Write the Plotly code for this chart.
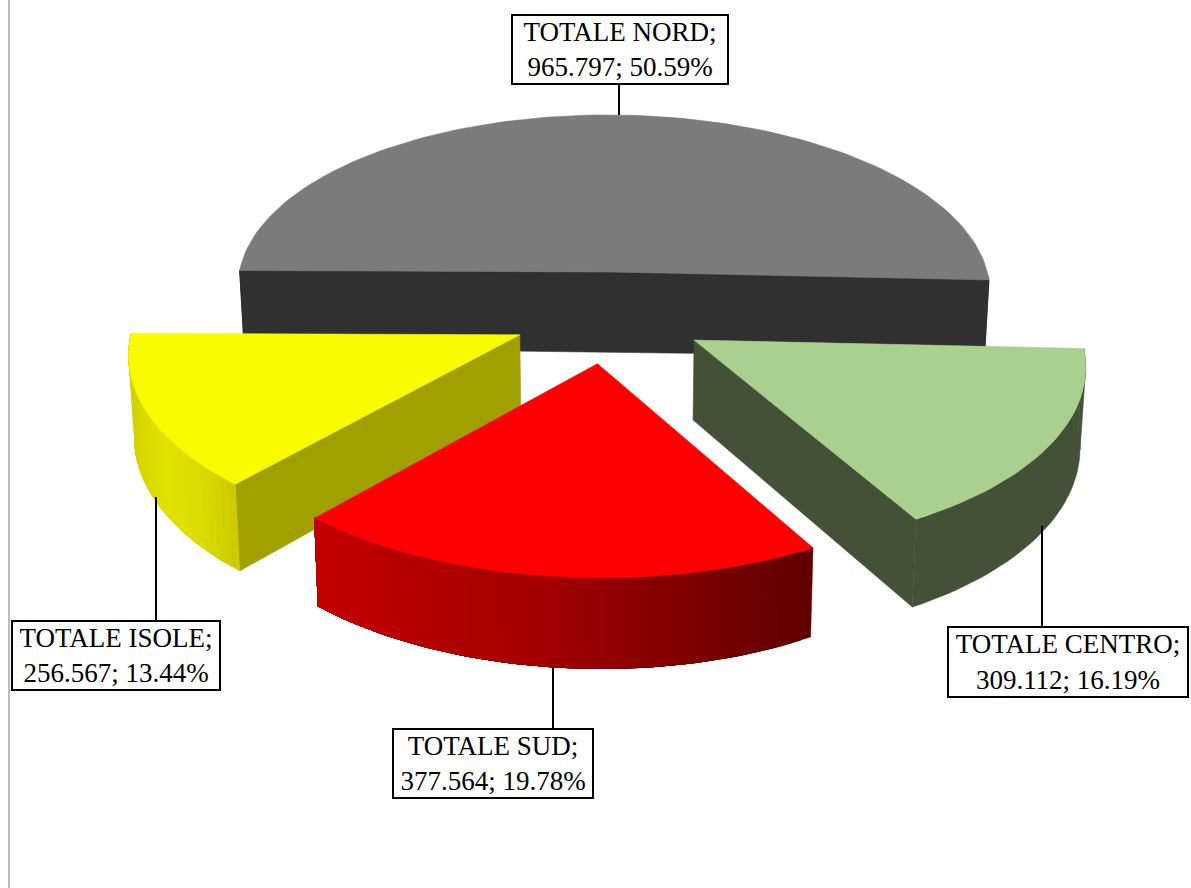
import math
import plotly.graph_objects as go

names = ["TOTALE NORD", "TOTALE CENTRO", "TOTALE SUD", "TOTALE ISOLE"]
values = [965797, 309112, 377564, 256567]
value_labels = ["965.797", "309.112", "377.564", "256.567"]
pct_labels = ["50.59%", "16.19%", "19.78%", "13.44%"]

top_colors = ["#7b7b7b", "#a9d08e", "#ff0000", "#fbfb00"]
flat_walls = ["#303030", "#435237", "#700000", "#a0a000"]
arc_stops = [
    ["#303030", "#303030"],
    ["#435237", "#435237"],
    ["#c40000", "#a00000", "#600000"],
    ["#d2d200", "#e2e200", "#dcdc00", "#cccc00"],
]
explode = [(0, 0), (0.206, -0.376), (-0.042, -0.505), (-0.243, -0.355)]
draw_order = [0, 3, 1, 2]

START = -90.5
CX, CY, RX, RY, K, H, ROLL = 614, 272, 374, 172.7, 0.1, 77, 0.008


def project(X, Y, drop=0.0):
    s = 1 / (1 + K * Y)
    shrink = 1 - 0.012 * drop
    px = CX + RX * s * X * shrink
    py = CY - RY * Y * s + H * s * drop
    return px, py + ROLL * (px - CX)


def hexmix(a, b, t):
    ca = [int(a[i:i + 2], 16) for i in (1, 3, 5)]
    cb = [int(b[i:i + 2], 16) for i in (1, 3, 5)]
    return "#%02x%02x%02x" % tuple(round(p + (q - p) * t) for p, q in zip(ca, cb))


def ramp(stops, f):
    f = min(max(f, 0), 1) * (len(stops) - 1)
    j = min(int(f), len(stops) - 2)
    return hexmix(stops[j], stops[j + 1], f - j)


fig = go.Figure()


def poly(points, color, name, width=0.6):
    fig.add_trace(go.Scatter(
        x=[p[0] for p in points] + [points[0][0]],
        y=[p[1] for p in points] + [points[0][1]],
        mode="lines", fill="toself", fillcolor=color,
        line=dict(color=color, width=width), hoverinfo="text", text=name,
        showlegend=False))


total = sum(values)
spans = []
a = START
for v in values:
    spans.append((a, a + 360 * v / total))
    a += 360 * v / total

for i in draw_order:
    a0, a1 = spans[i]
    ox, oy = explode[i]

    def rim(t, drop=0.0):
        r = math.radians(t)
        return project(ox + math.sin(r), oy + math.cos(r), drop)

    def apex(drop=0.0):
        return project(ox, oy, drop)

    steps = max(8, int((a1 - a0) / 1.5))
    angles = [a0 + (a1 - a0) * j / steps for j in range(steps + 1)]

    # radial walls that face the viewer
    if math.sin(math.radians(a0)) < 0:
        poly([apex(), rim(a0), rim(a0, 1), apex(1)], flat_walls[i], names[i])
    if math.sin(math.radians(a1)) > 0:
        poly([apex(), rim(a1), rim(a1, 1), apex(1)], flat_walls[i], names[i])

    # curved outer wall, only its front part: each strip runs on to the far end
    # of the wall and the next one paints over it, so no seams appear
    front = [t for t in angles if 90 < (t % 360) < 270]
    if front:
        xs = [rim(t)[0] for t in front]
        lo, hi = min(xs), max(xs)
        uniform = len(set(arc_stops[i])) == 1
        starts = front[:1] if uniform else front[:-1]
        for k, t0 in enumerate(starts):
            rest = [t for t in front if t >= t0]
            f = (rim(t0)[0] - lo) / max(hi - lo, 1)
            outline = [rim(t) for t in rest] + [rim(t, 1) for t in reversed(rest)]
            poly(outline, ramp(arc_stops[i], f), names[i], width=0.5)
        if uniform:
            # close the silhouette where the wall turns away from the viewer
            widest = max(front, key=lambda t: rim(t)[0])
            widest_low = max(front, key=lambda t: rim(t, 1)[0])
            poly([rim(widest), rim(widest_low, 1), rim(front[0], 1), rim(front[0])],
                 ramp(arc_stops[i], 0), names[i], width=0.5)

    # top face
    poly([apex()] + [rim(t) for t in angles], top_colors[i], names[i])

label_boxes = [(619.5, 49, 217, 70), (1067.5, 661.5, 241, 71), (492.5, 763, 201, 70), (115.5, 655, 209, 70)]
leaders = [(619, 84, 115), (1042, 526, 626), (553, 666, 728), (156, 497, 620)]

for i, (bx, by, bw, bh) in enumerate(label_boxes):
    fig.add_annotation(
        x=bx, y=by, xref="x", yref="y", showarrow=False,
        text=f"{names[i]};<br>{value_labels[i]}; {pct_labels[i]}",
        width=bw - 3, height=bh - 3, bgcolor="white", bordercolor="black", borderwidth=2, borderpad=0,
        align="center", valign="middle",
        font=dict(family="Liberation Serif", size=27, color="black"))

for lx, y0, y1 in leaders:
    fig.add_shape(type="line", x0=lx, x1=lx, y0=y0, y1=y1, xref="x", yref="y",
                  line=dict(color="black", width=2))
fig.add_shape(type="line", x0=9, x1=9, y0=0, y1=888, xref="x", yref="y",
              line=dict(color="#a6a6a6", width=1.5))

fig.update_xaxes(range=[0, 1191], visible=False, fixedrange=True)
fig.update_yaxes(range=[888, 0], visible=False, fixedrange=True)
fig.update_layout(width=1191, height=888, margin=dict(l=0, r=0, t=0, b=0),
                  plot_bgcolor="white", paper_bgcolor="white", showlegend=False)
fig.write_html("out.html", post_script="document.body.style.margin='0';document.body.style.overflow='hidden';",
               config={"displayModeBar": False})
